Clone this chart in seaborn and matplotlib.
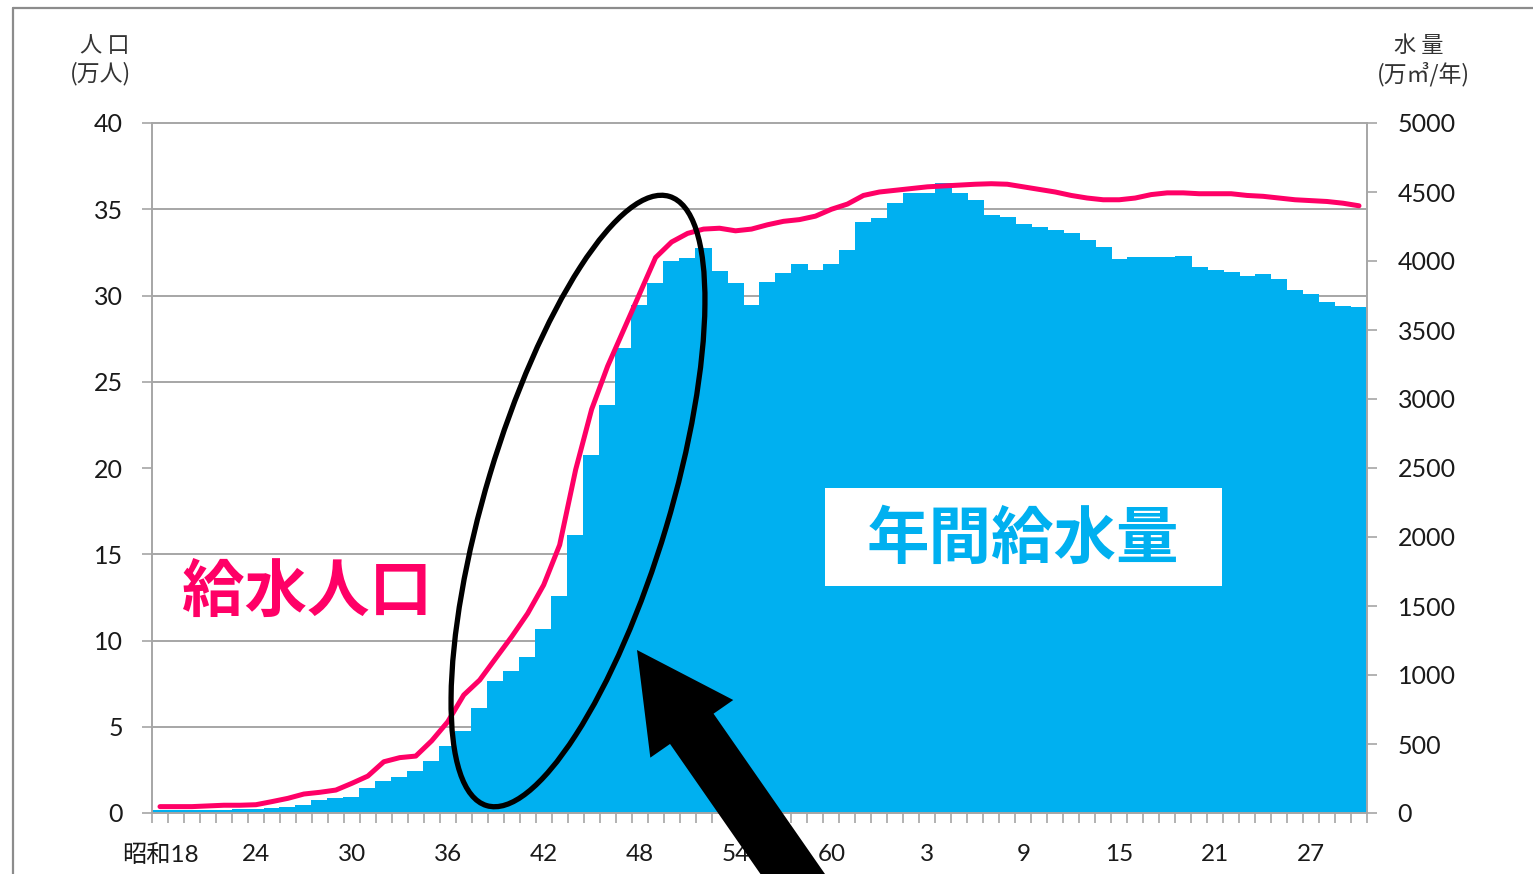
import numpy as np
import pandas as pd
import matplotlib
matplotlib.use("Agg")
import matplotlib.pyplot as plt
import seaborn as sns
from matplotlib.patches import Ellipse, FancyArrow, Rectangle
from matplotlib.ticker import FixedLocator

# Fiscal years 昭和18 (1943) to 平成30 (2018)
years = list(range(1943, 2019))

# x-axis labels every 6 years
tick_labels = ["昭和18", "24", "30", "36", "42", "48", "54", "60",
               "3", "9", "15", "21", "27"]

# annual water supply (万㎥/年)
water = [25, 25, 25, 25, 25, 30, 30, 34, 46, 58,
         94, 106, 118, 179, 230, 263, 302, 375, 486, 597,
         763, 959, 1031, 1128, 1333, 1572, 2014, 2594, 2957, 3367,
         3681, 3843, 4002, 4019, 4092, 3930, 3843, 3681, 3850, 3915,
         3976, 3935, 3976, 4083, 4283, 4309, 4418, 4495, 4495, 4567,
         4490, 4442, 4333, 4316, 4268, 4244, 4225, 4205, 4152, 4099,
         4017, 4027, 4027, 4027, 4036, 3954, 3935, 3923, 3894, 3903,
         3872, 3790, 3758, 3705, 3676, 3664]

# population served (万人)
population = [0.37, 0.37, 0.37, 0.41, 0.45, 0.45, 0.48, 0.66, 0.85, 1.10,
              1.20, 1.33, 1.72, 2.14, 2.97, 3.21, 3.30, 4.19, 5.29, 6.84,
              7.71, 8.97, 10.22, 11.57, 13.22, 15.54, 19.9, 23.4, 25.9, 28.0,
              30.1, 32.2, 33.1, 33.6, 33.85, 33.9, 33.75, 33.85, 34.1, 34.3,
              34.4, 34.6, 35.0, 35.3, 35.8, 36.0, 36.1, 36.2, 36.3, 36.35,
              36.4, 36.45, 36.48, 36.45, 36.3, 36.15, 36.0, 35.8, 35.65, 35.55,
              35.55, 35.65, 35.85, 35.95, 35.95, 35.9, 35.9, 35.9, 35.8, 35.75,
              35.65, 35.55, 35.5, 35.45, 35.35, 35.2]

BAR = "#00B0F0"
LINE = "#FF0066"
GRID = "#A6A6A6"
TXT = "#1a1a1a"

df = pd.DataFrame({"year": years, "water": water, "population": population})
df["pos"] = np.arange(len(df))

sns.set_theme(style="white")
plt.rcParams["font.family"] = ["Lato", "Noto Sans CJK JP", "DejaVu Sans"]

W, H = 1533, 874
fig = plt.figure(figsize=(W / 100, H / 100), dpi=100)
fig.patch.set_facecolor("white")

L, R, T, B = 152, 1367, 123, 813
ax = fig.add_axes([L / W, (H - B) / H, (R - L) / W, (B - T) / H])

# bars: annual supply, right-hand scale (slight overlap avoids seams)
sns.barplot(data=df, x="pos", y="water", ax=ax, color=BAR, saturation=1,
            width=1.05, linewidth=0, edgecolor="none")
ax.set_xlabel("")
ax.set_ylabel("")

# line: population served, left-hand scale
ax2 = ax.twinx()
sns.lineplot(data=df, x="pos", y="population", ax=ax2, color=LINE, lw=3.6)

# --- bar axis (right) ---
ax.set_ylim(0, 5000)
ax.set_xlim(-0.5, len(years) - 0.5)
ax.yaxis.tick_right()
ax.set_yticks(np.arange(0, 5001, 500))
ax.set_yticklabels([str(v) for v in range(0, 5001, 500)])

# horizontal grid follows the population scale (every 5万人 = 625)
ax.yaxis.set_minor_locator(FixedLocator(np.arange(0, 5001, 625)))
ax.grid(which="minor", axis="y", color=GRID, lw=1.4)
ax.grid(which="major", axis="both", visible=False)
ax.set_axisbelow(True)

# x ticks: labels at bar centres, tick marks at bar boundaries
ax.set_xticks(np.arange(0, len(years), 6))
ax.set_xticklabels(tick_labels)
ax.xaxis.set_minor_locator(FixedLocator(np.arange(-0.5, len(years), 1)))
ax.tick_params(axis="x", which="major", length=0, pad=22, labelsize=17.5,
               labelcolor=TXT)
ax.tick_params(axis="x", which="minor", length=7, width=1.2, color=GRID,
               direction="out", bottom=True)
ax.tick_params(axis="y", which="major", length=7, width=1.2, color=GRID,
               direction="out", pad=15, labelsize=18, labelcolor=TXT,
               right=True, left=False, labelright=True, labelleft=False)
ax.tick_params(axis="y", which="minor", length=0, left=False, right=False)

for s in ["left", "right", "bottom", "top"]:
    ax.spines[s].set_visible(True)
    ax.spines[s].set_color(GRID)
    ax.spines[s].set_linewidth(1.4)

# --- population axis (left) ---
ax2.set_ylim(0, 40)
ax2.set_xlim(-0.5, len(years) - 0.5)
ax2.yaxis.tick_left()
ax2.set_yticks(np.arange(0, 41, 5))
ax2.set_yticklabels([str(v) for v in range(0, 41, 5)])
ax2.tick_params(axis="y", length=7, width=1.2, color=GRID, direction="out",
                pad=14, labelsize=18, labelcolor=TXT, left=True, right=False,
                labelleft=True, labelright=False)
ax2.set_xlabel("")
ax2.set_ylabel("")
for s in ax2.spines.values():
    s.set_visible(False)

# axis titles
cjk = ["Noto Sans CJK JP", "DejaVu Sans"]
fig.text(105 / W, 1 - 45 / H, "人 口", ha="center", va="center",
         fontsize=16, color="#333333", family=cjk)
fig.text(101 / W, 1 - 74 / H, "(万人)", ha="center", va="center",
         fontsize=16.5, color="#333333", family=cjk)
fig.text(1419 / W, 1 - 45 / H, "水 量", ha="center", va="center",
         fontsize=16, color="#333333", family=cjk)
fig.text(1423 / W, 1 - 74 / H, "(万㎥/年)", ha="center", va="center",
         fontsize=16.5, color="#333333", family=cjk)

# overlay in pixel coordinates for callouts and frame
ov = fig.add_axes([0, 0, 1, 1])
ov.set_xlim(0, W)
ov.set_ylim(H, 0)
ov.axis("off")
ov.patch.set_alpha(0)

ov.plot([13, W], [8, 8], color="#8C8C8C", lw=1.6)
ov.plot([13, 13], [8, H], color="#8C8C8C", lw=1.6)

ov.add_patch(Rectangle((825, 488), 397, 98, facecolor="white",
                       edgecolor="none"))
ov.text(1023, 539, "年間給水量", ha="center", va="center", fontsize=45,
        fontweight="bold", color=BAR, family=cjk)
ov.text(307, 592, "給水人口", ha="center", va="center", fontsize=45,
        fontweight="bold", color=LINE, family=cjk)

ov.add_patch(Ellipse((578, 501), 636, 184, angle=-73.3, fill=False,
                     edgecolor="black", lw=3.8))
ov.add_patch(FancyArrow(808, 896, -171, -246, width=53, head_width=101,
                        head_length=96, length_includes_head=True,
                        color="black", lw=0))

fig.savefig("out.png", dpi=100, facecolor="white")
